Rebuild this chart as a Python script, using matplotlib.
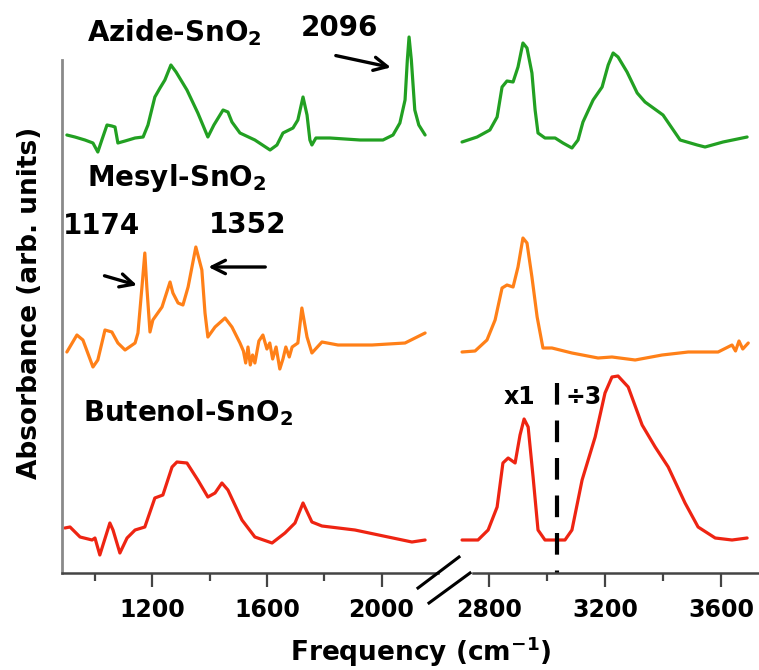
import matplotlib
matplotlib.use('Agg')
import matplotlib.pyplot as plt
from matplotlib.lines import Line2D

# wavenumbers (cm-1) and absorbance (arb. units, traces already offset)
wn_azide_lo = [902, 930, 965, 993, 1010, 1024, 1042, 1059, 1070, 1080, 1105, 1140, 1168, 1185,
               1209, 1227, 1244, 1265, 1283, 1321, 1359, 1394, 1415, 1447, 1464, 1478, 1506, 1558,
               1611, 1635, 1656, 1691, 1708, 1726, 1740, 1750, 1757, 1771, 1820, 1925, 2005, 2040,
               2064, 2082, 2090, 2096, 2104, 2116, 2130, 2152]
ab_azide_lo = [438, 436, 433, 430, 421, 433, 448, 447, 446, 430, 432, 435, 436, 448,
               476, 485, 493, 508, 501, 483, 460, 436, 448, 463, 461, 451, 440, 433,
               423, 428, 440, 445, 453, 476, 458, 433, 428, 435, 435, 433, 433, 438,
               450, 473, 513, 536, 513, 463, 448, 438]
wn_azide_hi = [2707, 2759, 2803, 2828, 2845, 2862, 2883, 2900, 2917, 2931, 2948, 2959, 2969, 2993,
               3028, 3055, 3086, 3107, 3124, 3159, 3190, 3211, 3228, 3245, 3276, 3311, 3338, 3400,
               3459, 3518, 3545, 3607, 3690]
ab_azide_hi = [431, 436, 443, 456, 486, 492, 491, 506, 530, 525, 500, 463, 440, 435,
               435, 430, 425, 433, 451, 473, 486, 508, 520, 516, 501, 480, 471, 458,
               433, 428, 426, 431, 436]

wn_mesyl_lo = [902, 937, 958, 993, 1010, 1035, 1059, 1080, 1105, 1140, 1150, 1164, 1174, 1181,
               1192, 1202, 1234, 1262, 1272, 1290, 1307, 1325, 1352, 1373, 1384, 1394, 1419, 1454,
               1478, 1506, 1518, 1526, 1534, 1542, 1550, 1558, 1572, 1586, 1600, 1610, 1620, 1632,
               1645, 1656, 1666, 1678, 1688, 1708, 1722, 1740, 1757, 1792, 1848, 1967, 2082, 2152]
ab_mesyl_lo = [221, 238, 233, 206, 213, 243, 241, 230, 223, 230, 240, 286, 320, 286,
               241, 253, 266, 291, 280, 270, 268, 286, 326, 303, 260, 236, 246, 255,
               246, 230, 222, 210, 226, 208, 218, 210, 232, 238, 224, 230, 214, 226,
               204, 214, 226, 216, 226, 230, 265, 236, 220, 231, 228, 228, 230, 240]
wn_mesyl_hi = [2707, 2752, 2793, 2821, 2845, 2862, 2883, 2900, 2917, 2931, 2948, 2966, 2986, 3017,
               3086, 3176, 3224, 3304, 3397, 3487, 3590, 3638, 3650, 3662, 3675, 3694]
ab_mesyl_hi = [221, 222, 233, 253, 285, 288, 286, 306, 335, 330, 296, 256, 225, 225,
               220, 215, 216, 213, 218, 221, 221, 228, 222, 232, 224, 230]

wn_buten_lo = [895, 913, 948, 990, 1000, 1017, 1052, 1063, 1087, 1112, 1140, 1174, 1209, 1237,
               1269, 1286, 1321, 1359, 1394, 1419, 1443, 1464, 1513, 1558, 1618, 1663, 1698, 1726,
               1757, 1792, 1907, 2023, 2106, 2152]
ab_buten_lo = [45, 46, 36, 33, 35, 18, 50, 43, 20, 35, 43, 46, 75, 78,
               106, 111, 110, 93, 76, 80, 90, 83, 53, 36, 30, 40, 50, 70,
               51, 47, 43, 36, 31, 33]
wn_buten_hi = [2707, 2762, 2797, 2828, 2848, 2866, 2890, 2907, 2921, 2935, 2952, 2969, 2993, 3062,
               3086, 3121, 3166, 3200, 3224, 3245, 3280, 3328, 3373, 3418, 3476, 3521, 3580, 3638,
               3690]
ab_buten_hi = [33, 33, 43, 66, 110, 115, 110, 138, 154, 146, 96, 43, 33, 33,
               43, 93, 136, 180, 196, 197, 186, 148, 126, 106, 70, 46, 35, 33,
               35]

green = '#22a022'
orange = '#ff8018'
red = '#ee2412'

plt.rcParams['font.family'] = 'DejaVu Sans'
plt.rcParams['font.weight'] = 'bold'
plt.rcParams['mathtext.default'] = 'bf'

fig = plt.figure(figsize=(7.59, 6.70), dpi=100)
W, H = 759., 670.
ax1 = fig.add_axes([62 / W, 97 / H, 376 / W, 573 / H])
ax2 = fig.add_axes([460 / W, 97 / H, 299 / W, 573 / H])

lw = 2.3
for ax, data in ((ax1, [(wn_azide_lo, ab_azide_lo, green), (wn_mesyl_lo, ab_mesyl_lo, orange),
                        (wn_buten_lo, ab_buten_lo, red)]),
                 (ax2, [(wn_azide_hi, ab_azide_hi, green), (wn_mesyl_hi, ab_mesyl_hi, orange),
                        (wn_buten_hi, ab_buten_hi, red)])):
    for x, y, c in data:
        ax.plot(x, y, color=c, lw=lw, solid_joinstyle='round', solid_capstyle='round')

ax1.set_xlim(885, 2197)
ax2.set_xlim(2700, 3731)
for ax in (ax1, ax2):
    ax.set_ylim(0, 573)
    ax.set_yticks([])
    ax.patch.set_alpha(0)
    for s in ('top', 'right'):
        ax.spines[s].set_visible(False)
    ax.spines['bottom'].set_color('#444444')
    ax.spines['bottom'].set_linewidth(1.8)
    ax.tick_params(axis='x', which='major', direction='out', length=10, width=1.6,
                   color='#444444', labelsize=17, pad=8)
    ax.tick_params(axis='x', which='minor', direction='out', length=6, width=1.6,
                   color='#444444')

ax1.spines['left'].set_color('#8a8a8a')
ax1.spines['left'].set_linewidth(2)
ax1.spines['left'].set_bounds(0, 513)
ax2.spines['left'].set_visible(False)
ax2.spines['bottom'].set_bounds(2745, 3731)

ax1.set_xticks([1200, 1600, 2000])
ax1.set_xticks([1000, 1400, 1800], minor=True)
ax2.set_xticks([2800, 3200, 3600])
ax2.set_xticks([3000, 3400], minor=True)

# axis break marks
for (x0, y0, x1, y1) in [(418, 588, 459, 557), (429, 603, 470, 573)]:
    fig.add_artist(Line2D([x0 / W, x1 / W], [1 - y0 / H, 1 - y1 / H],
                          color='black', lw=2.2, transform=fig.transFigure))

# labels
fs = 20
ax1.text(972, 540, r'Azide-SnO$_2$', fontsize=fs, va='center', ha='left', clip_on=False)
ax1.text(972, 395, r'Mesyl-SnO$_2$', fontsize=fs, va='center', ha='left')
ax1.text(958, 160, r'Butenol-SnO$_2$', fontsize=fs, va='center', ha='left')
ax1.text(1852, 545, '2096', fontsize=fs, va='center', ha='center', clip_on=False)
ax1.text(1024, 347, '1174', fontsize=fs, va='center', ha='center')
ax1.text(1534, 348, '1352', fontsize=fs, va='center', ha='center')

arrow = dict(arrowstyle='->', lw=2.4, color='black', mutation_scale=24)
ax1.annotate('', xy=(2042, 505), xytext=(1831, 518), arrowprops=arrow)
ax1.annotate('', xy=(1156, 287), xytext=(1024, 298), arrowprops=arrow)
ax1.annotate('', xy=(1386, 306), xytext=(1604, 306), arrowprops=arrow)

ax2.plot([3035, 3035], [190, 0], color='black', lw=3, linestyle=(0, (5.2, 3.8)))
ax2.text(2904, 176, 'x1', fontsize=17, va='center', ha='center')
ax2.text(3128, 176, '÷3', fontsize=17, va='center', ha='center')

fig.text(30 / W, 1 - 303 / H, 'Absorbance (arb. units)', fontsize=19, rotation=90,
         ha='center', va='center')
fig.text(421 / W, 1 - 652 / H, r'Frequency (cm$^{-1}$)', fontsize=19,
         ha='center', va='center')

fig.savefig('out.png', dpi=100)
